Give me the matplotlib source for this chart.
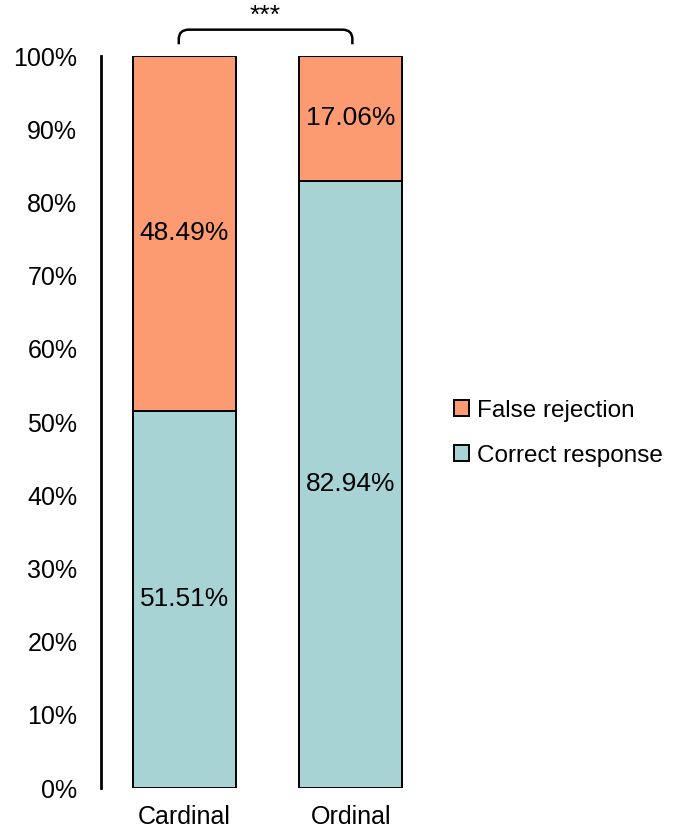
import matplotlib.pyplot as plt
from matplotlib.path import Path
from matplotlib.patches import PathPatch
from matplotlib.ticker import FuncFormatter
import numpy as np

plt.rcParams['font.family'] = ['Liberation Sans', 'DejaVu Sans']

categories = ['Cardinal', 'Ordinal']
correct = [51.51, 82.94]
false_rej = [48.49, 17.06]
yticks = list(range(0, 101, 10))

col_correct = '#a8d3d5'
col_false = '#fc9a72'

fig = plt.figure(figsize=(6.8, 8.36), dpi=100)
ax = fig.add_axes([0.1485, 0.0574, 0.49, 0.8756])

x = np.arange(len(categories))
b1 = ax.bar(x, correct, width=0.617, color=col_correct, edgecolor='black',
            linewidth=1.4, label='Correct response')
b2 = ax.bar(x, false_rej, width=0.617, bottom=correct, color=col_false,
            edgecolor='black', linewidth=1.4, label='False rejection')

ax.bar_label(b1, labels=[f'{v:.2f}%' for v in correct], label_type='center',
             fontsize=19)
ax.bar_label(b2, labels=[f'{v:.2f}%' for v in false_rej], label_type='center',
             fontsize=19)

ax.set_xlim(-0.5, 1.5)
ax.set_ylim(0, 100)
ax.set_yticks(yticks)
ax.yaxis.set_major_formatter(FuncFormatter(lambda v, p: f'{v:.0f}%'))
ax.set_xticks(x)
ax.set_xticklabels(categories)
ax.tick_params(axis='y', length=0, pad=17, labelsize=18)
ax.tick_params(axis='x', length=0, pad=12, labelsize=18)

for s in ['top', 'right', 'bottom']:
    ax.spines[s].set_visible(False)
ax.spines['left'].set_linewidth(2)

# significance bracket
x0, x1 = -0.033, 1.009
ylo, ytop = 101.6, 103.6
rx, ry = 0.06, 1.3
verts = [(x0, ylo), (x0, ytop - ry), (x0, ytop), (x0 + rx, ytop),
         (x1 - rx, ytop), (x1, ytop), (x1, ytop - ry), (x1, ylo)]
codes = [Path.MOVETO, Path.LINETO, Path.CURVE3, Path.CURVE3,
         Path.LINETO, Path.CURVE3, Path.CURVE3, Path.LINETO]
ax.add_patch(PathPatch(Path(verts, codes), fill=False, lw=1.8,
                       edgecolor='black', clip_on=False))
ax.text((x0 + x1) / 2, 103.9, '***', ha='center', va='bottom', fontsize=19)

handles = [b2, b1]
leg = fig.legend(handles, ['False rejection', 'Correct response'],
                 loc='center left', bbox_to_anchor=(0.667, 0.482),
                 frameon=False, fontsize=17.5, handlelength=0.65,
                 handleheight=0.65, handletextpad=0.3, labelspacing=0.95,
                 borderpad=0, borderaxespad=0)

fig.savefig('out.png', dpi=100)
